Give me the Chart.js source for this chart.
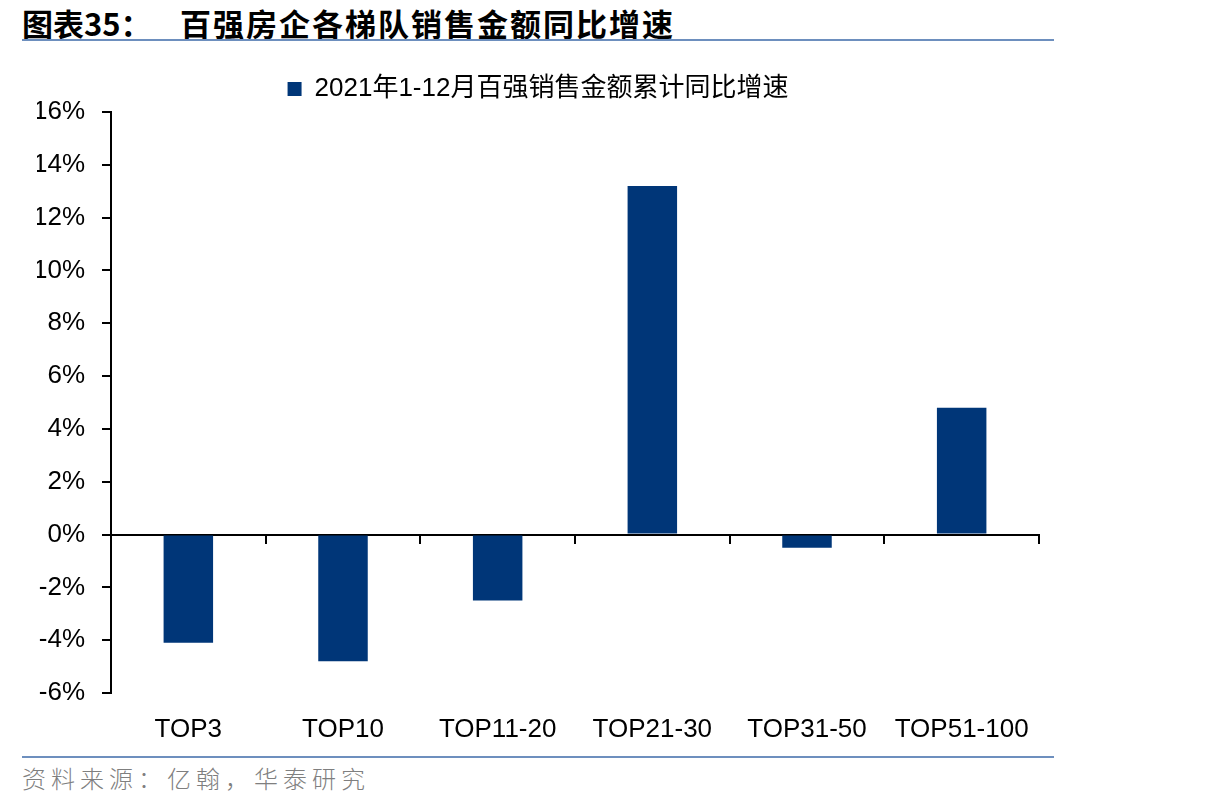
<!DOCTYPE html>
<html>
<head>
<meta charset="utf-8">
<script src="https://cdn.jsdelivr.net/npm/chart.js@4.4.1/dist/chart.umd.min.js"></script>
<style>
  body { margin: 0; background: #fff; width: 1206px; height: 812px; position: relative; overflow: hidden; }
  #title { position: absolute; left: 22px; top: 0px; font-family: "Noto Sans CJK SC", sans-serif; font-weight: 700; font-size: 31px; color: #000; white-space: nowrap; }
  #title .rest { position: absolute; left: 158px; top: 0; letter-spacing: 2px; }
  .rule { position: absolute; left: 22px; width: 1032px; height: 2px; background: #6d8fbe; }
  #source { position: absolute; left: 22px; top: 760px; font-family: "Noto Sans CJK SC", sans-serif; font-weight: 300; font-size: 24px; color: #7f7f7f; letter-spacing: 5px; }
  #wrap { position: absolute; left: 0; top: 50px; width: 1126px; height: 705px; }
</style>
</head>
<body>
<div id="title">图表35：<span class="rest">百强房企各梯队销售金额同比增速</span></div>
<div class="rule" style="top:39px"></div>
<div id="wrap"><canvas id="chart"></canvas></div>
<div class="rule" style="top:756px"></div>
<div id="source">资料来源：亿翰，华泰研究</div>
<script>
// 数据
const categories = ['TOP3', 'TOP10', 'TOP11-20', 'TOP21-30', 'TOP31-50', 'TOP51-100'];
const growth = [-4.1, -4.8, -2.5, 13.2, -0.5, 4.8];
const seriesName = '2021年1-12月百强销售金额累计同比增速';
const yTicks = [-6, -4, -2, 0, 2, 4, 6, 8, 10, 12, 14, 16];

const fontFamily = '"Liberation Sans", Arial, "Noto Sans CJK SC", sans-serif';
const navy = '#003678';

const ctx = document.getElementById('chart').getContext('2d');
new Chart(ctx, {
    type: 'bar',
    data: {
        labels: categories,
        datasets: [{
            label: seriesName,
            data: growth,
            backgroundColor: navy,
            borderWidth: 0,
            barPercentage: 0.32,
            categoryPercentage: 1.0,
            xAxisID: 'x'
        }]
    },
    options: {
        responsive: true,
        maintainAspectRatio: false,
        animation: false,
        layout: { padding: { left: 37, right: 87, top: 8, bottom: 0 } },
        plugins: {
            tooltip: { enabled: false },
            legend: {
                display: true,
                position: 'top',
                labels: {
                    boxWidth: 14,
                    boxHeight: 14,
                    color: '#000',
                    padding: 18,
                    font: { family: fontFamily, size: 26 }
                }
            }
        },
        scales: {
            // eje en el cero: solo línea y marcas
            x: {
                type: 'category',
                position: { y: 0 },
                offset: true,
                grid: { display: true, drawOnChartArea: false, drawTicks: true, tickLength: 8, offset: true, color: '#000', lineWidth: 2 },
                border: { display: true, color: '#000', width: 2 },
                ticks: { display: false },
                afterFit: (scale) => { scale.height = 0; }
            },
            // eje inferior: solo etiquetas
            x2: {
                type: 'category',
                labels: categories,
                position: 'bottom',
                offset: true,
                grid: { display: false, drawTicks: false },
                border: { display: false },
                ticks: { color: '#000', padding: 21, font: { family: fontFamily, size: 26 }, maxRotation: 0 },
                afterFit: (scale) => { scale.height = 62; }
            },
            y: {
                min: -6,
                max: 16,
                afterBuildTicks: (scale) => { scale.ticks = yTicks.map(v => ({ value: v })); },
                grid: { display: true, drawOnChartArea: false, drawTicks: true, tickLength: 9, color: '#000', lineWidth: 2 },
                border: { display: true, color: '#000', width: 2 },
                ticks: {
                    color: '#000',
                    padding: 17,
                    font: { family: fontFamily, size: 26 },
                    callback: (v) => v + '%'
                },
                afterFit: (scale) => { scale.width = 74; }
            }
        }
    }
});
</script>
</body>
</html>
